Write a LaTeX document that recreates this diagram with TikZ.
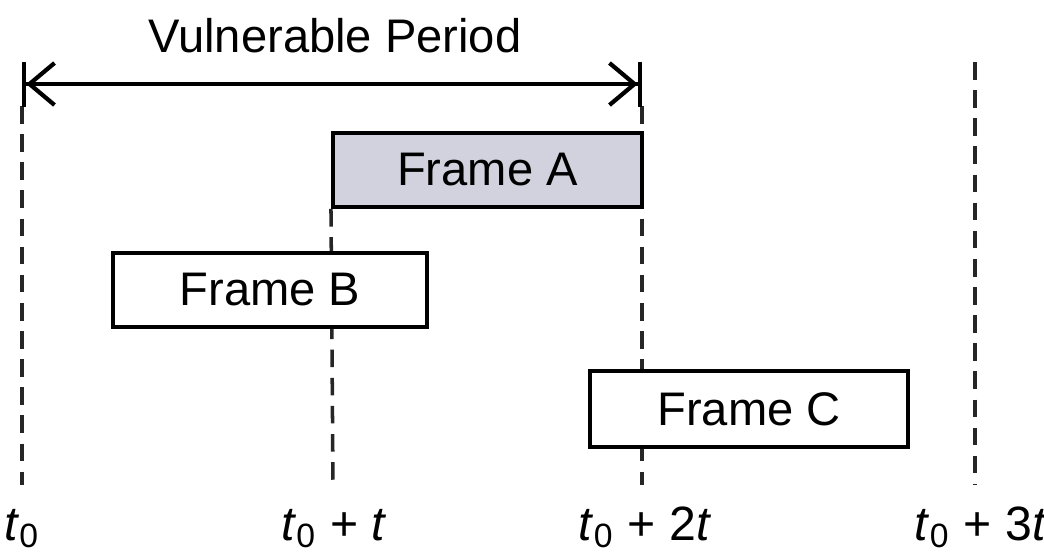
\documentclass[tikz,border=0pt]{standalone}
\usepackage{fontspec}
\setmainfont{Liberation Sans}
\usetikzlibrary{arrows.meta,backgrounds}

\definecolor{frameshade}{RGB}{210,210,222}

\begin{document}
\begin{tikzpicture}[x=0.01cm,y=-0.01cm,
    frame/.style={draw, line width=1.1pt, inner sep=0pt, minimum height=0.74cm,
        font=\fontsize{13.4}{16}\selectfont},
    timeline/.style={line width=1pt, dash pattern=on 5pt off 3pt, black!85},
    period/.style={line width=1.2pt,
        {Bar[width=0.45cm]Straight Barb[length=0.25cm,width=0.42cm]}-{Straight Barb[length=0.25cm,width=0.42cm]Bar[width=0.45cm]}},
    timelabel/.style={anchor=base, font=\fontsize{13.7}{16}\selectfont}
]
% Parameters
\def\arrowy{84}
\def\linetop{106}
\def\linebot{485}

\useasboundingbox (0,0) rectangle (1044,553);

% Frames
\node[frame, fill=frameshade, minimum width=3.09cm] (frameA) at (487.5,170) {Frame A};
\node[frame, fill=white, minimum width=3.14cm] (frameB) at (270,290) {Frame B};
\node[frame, fill=white, minimum width=3.18cm, minimum height=0.76cm] (frameC) at (749,409) {Frame C};

% Time marks
\foreach \name/\x in {t0/22, t1/333, t2/642, t3/975} {
    \coordinate (\name-bot) at (\x,\linebot);
}
\coordinate (t0-arr) at (22,\arrowy);
\coordinate (t2-arr) at (642,\arrowy);
\coordinate (t0-top) at (22,\linetop);
\coordinate (t2-top) at (642,\linetop);
\coordinate (t3-top) at (975,62);

\begin{scope}[on background layer]
    \draw[timeline] (t0-top) -- (t0-bot);
    \draw[timeline] (frameA.south west) -- (t1-bot);
    \draw[timeline] (t2-top) -- (t2-bot);
    \draw[timeline] (t3-top) -- (t3-bot);
\end{scope}

% Vulnerable period
\draw[period] (t0-arr) -- (t2-arr);
\node[anchor=base, font=\fontsize{13.4}{16}\selectfont] (vuln) at (335,52) {Vulnerable Period};

% Labels
\node[timelabel] (lbl0) at (22,540) {\textit{t}\textsubscript{0}};
\node[timelabel] (lbl1) at (334,540) {\textit{t}\textsubscript{0} + \textit{t}};
\node[timelabel] (lbl2) at (645,540) {\textit{t}\textsubscript{0} + 2\textit{t}};
\node[timelabel] (lbl3) at (981,540) {\textit{t}\textsubscript{0} + 3\textit{t}};
\end{tikzpicture}
\end{document}
